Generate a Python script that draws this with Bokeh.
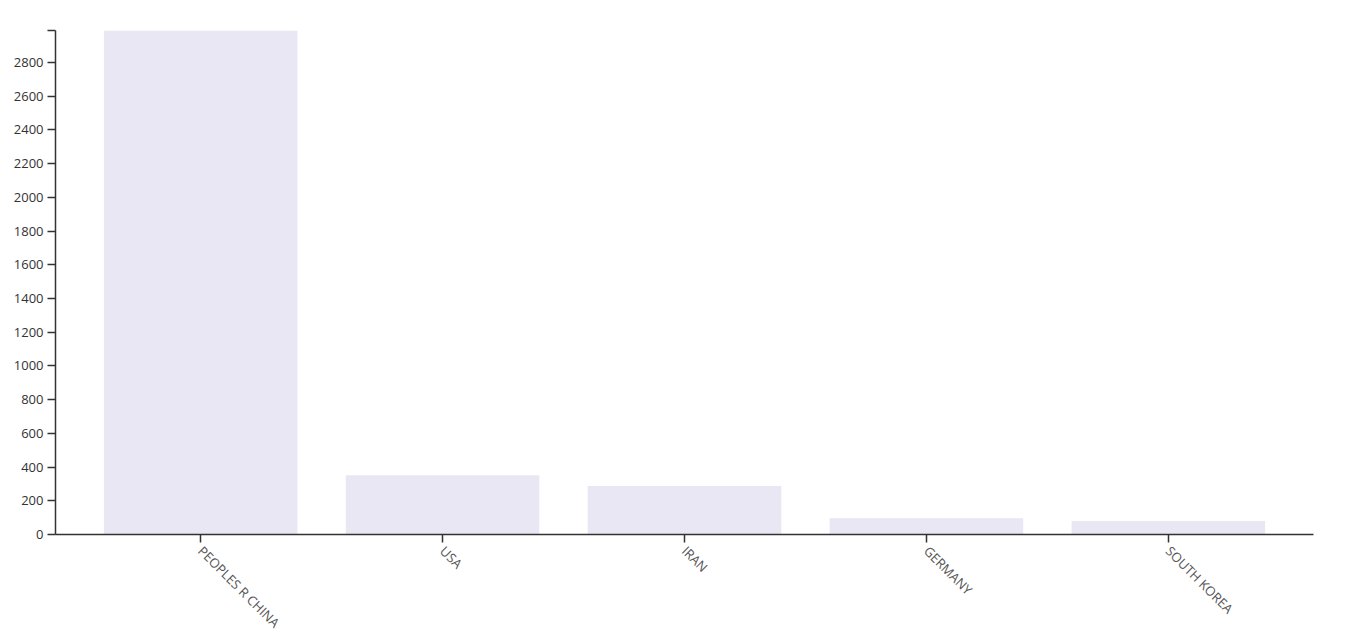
import math
from bokeh.plotting import figure
from bokeh.models import FactorRange, Range1d, FixedTicker
from bokeh.embed import file_html
from bokeh.resources import INLINE

countries = ["PEOPLES R CHINA", "USA", "IRAN", "GERMANY", "SOUTH KOREA"]
counts = [2990, 352, 288, 97, 80]
y_ticks = [0, 200, 400, 600, 800, 1000, 1200, 1400, 1600, 1800, 2000, 2200, 2400, 2600, 2800]
y_max = 2990

p = figure(
    x_range=FactorRange(factors=countries, range_padding=0.1, range_padding_units="absolute"),
    y_range=Range1d(0, y_max),
    width=1342, height=640,
    min_border_left=55, min_border_right=29, min_border_top=30, min_border_bottom=106,
    output_backend="svg", toolbar_location=None,
)
p.vbar(x=countries, top=counts, width=0.8, fill_color="#e9e7f3", line_color=None)

p.xgrid.visible = False
p.ygrid.visible = False
p.outline_line_color = None

ticks_with_cap = y_ticks + [y_max]
p.yaxis.ticker = FixedTicker(ticks=ticks_with_cap)
p.yaxis.major_label_overrides = {y_max: ""}
p.yaxis.minor_tick_line_color = None

for ax in (p.xaxis[0], p.yaxis[0]):
    ax.axis_line_color = "#333333"
    ax.axis_line_width = 1.5
    ax.major_tick_line_color = "#333333"
    ax.major_tick_line_width = 1.5
    ax.major_tick_out = 8
    ax.major_tick_in = 0
    ax.major_label_text_font = "Open Sans"
    ax.major_label_text_font_size = "13px"

p.yaxis.major_label_text_color = "#333333"
p.yaxis.major_label_standoff = 4
p.xaxis.major_label_text_color = "#555555"
p.xaxis.major_label_orientation = -math.pi / 4
p.xaxis.major_label_standoff = 6

open("out.html", "w").write(file_html(p, INLINE))
